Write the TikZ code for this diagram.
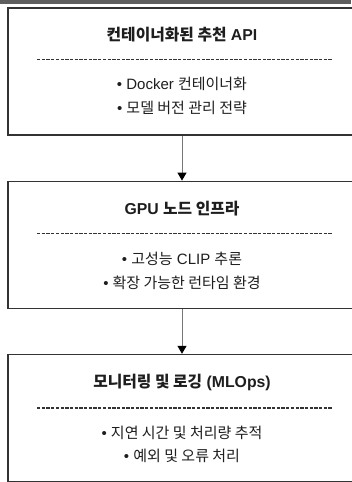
\documentclass[tikz,border=0pt]{standalone}
\usepackage{fontspec}
\setmainfont{Liberation Sans}
\newfontfamily\kr{Noto Sans CJK KR}
\usetikzlibrary{arrows.meta,positioning,shadows}
\definecolor{edge}{HTML}{333333}
\definecolor{ink}{HTML}{1E1E1E}
\definecolor{topbar}{HTML}{5E5E5E}
\definecolor{conn}{HTML}{777777}

\begin{document}
\begin{tikzpicture}[x=1pt,y=1pt,
   node distance=45pt,
   stage/.style={draw=edge,line width=1.2pt,fill=white,minimum width=348pt,minimum height=127pt,
                 inner sep=0pt,drop shadow={shadow xshift=0.6pt,shadow yshift=-1.2pt,opacity=0.18}},
   head/.style={font=\fontsize{15.8}{18}\selectfont\bfseries,text=ink,inner sep=0pt},
   item/.style={font=\fontsize{15}{17}\selectfont,text=ink,inner sep=0pt},
   rule/.style={edge,line width=1.4pt,dash pattern=on 3.3pt off 1.4pt},
   flow/.style={conn,line width=1pt,-{Triangle[length=8pt,width=9pt,color=black]}}
  ]
  \useasboundingbox (0,0) rectangle (351,-482);
  \fill[topbar] (0,0) rectangle (351,-4);

  \node[stage] (api) at (182,-71.5) {};
  \node[stage,below=45pt of api] (gpu) {};
  \node[stage,below=45pt of gpu] (mon) {};

  % containerised API
  \node[head] (apihead) at ([yshift=-27pt]api.north) {{\kr 컨테이너화된 추천} API};
  \draw[rule] ([shift={(-145pt,-52pt)}]api.north) -- ([shift={(151pt,-52pt)}]api.north);
  \node[item] (apione) at ([yshift=-76pt]api.north) {• Docker {\kr 컨테이너화}};
  \node[item] (apitwo) at ([yshift=-100pt]api.north) {• {\kr 모델 버전 관리 전략}};

  % GPU infrastructure
  \node[head] (gpuhead) at ([yshift=-28pt]gpu.north) {GPU {\kr 노드 인프라}};
  \draw[rule] ([shift={(-145pt,-53pt)}]gpu.north) -- ([shift={(151pt,-53pt)}]gpu.north);
  \node[item] (gpuone) at ([yshift=-78pt]gpu.north) {• {\kr 고성능} CLIP {\kr 추론}};
  \node[item] (gputwo) at ([yshift=-102pt]gpu.north) {• {\kr 확장 가능한 런타임 환경}};

  % monitoring
  \node[head] (monhead) at ([yshift=-29pt]mon.north) {{\kr 모니터링 및 로깅} (MLOps)};
  \draw[rule] ([shift={(-145pt,-54pt)}]mon.north) -- ([shift={(151pt,-54pt)}]mon.north);
  \node[item] (monone) at ([yshift=-79pt]mon.north) {• {\kr 지연 시간 및 처리량 추적}};
  \node[item] (montwo) at ([yshift=-102pt]mon.north) {• {\kr 예외 및 오류 처리}};

  \draw[flow] (api) -- (gpu);
  \draw[flow] (gpu) -- (mon);
\end{tikzpicture}
\end{document}
